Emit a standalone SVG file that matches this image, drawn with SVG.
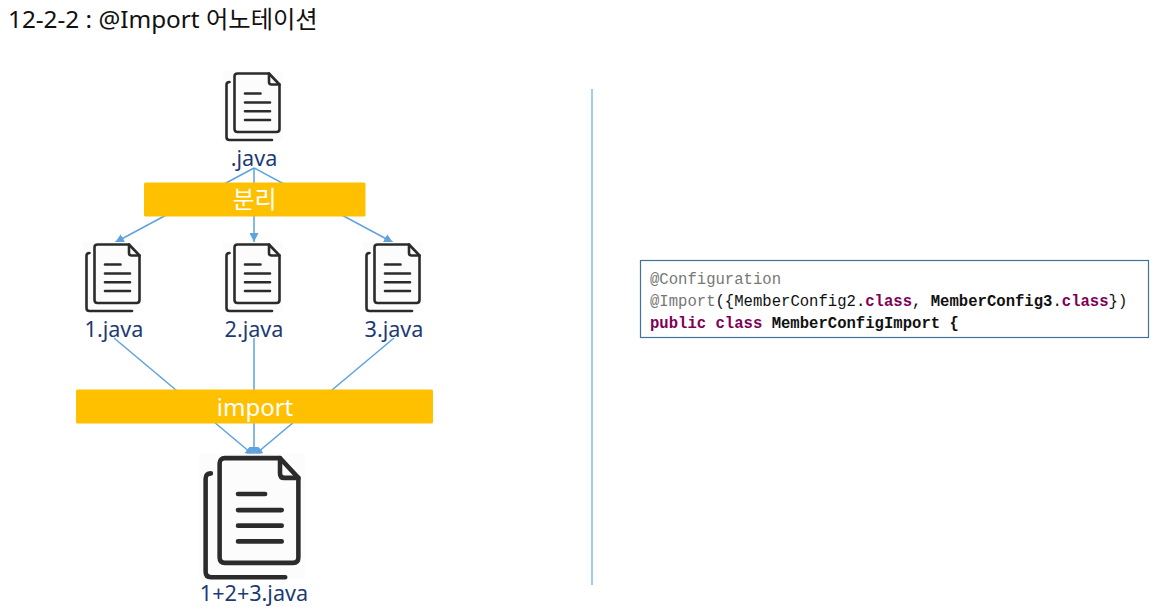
<svg xmlns="http://www.w3.org/2000/svg" width="1156" height="615" viewBox="0 0 1156 615">
<style>
.lbl{font-family:"Noto Sans","Noto Sans CJK KR",sans-serif;font-size:21.6px;fill:#1D3A74;text-anchor:middle}
.bar{fill:#FFC000}
.bt{font-family:"Noto Sans","Noto Sans CJK KR",sans-serif;font-size:24px;fill:#fff;text-anchor:middle}
.c{stroke:#5EA3DE;stroke-width:1.5;fill:none}
.a{marker-end:url(#arr)}
.ic{fill:none;stroke:#2b2b2b;stroke-width:2.6;stroke-linecap:round;stroke-linejoin:round}
.code{font-family:"Liberation Mono",monospace;font-size:15.6px;fill:#111}
.b{font-weight:bold}
.k{fill:#7F0055;font-weight:bold}
.g{fill:#777}
</style>
<defs>
<marker id="arr" markerUnits="userSpaceOnUse" markerWidth="10" markerHeight="9" refX="9" refY="4.5" orient="auto">
<path d="M0,0 L9,4.5 L0,9 Z" fill="#5EA3DE"/>
</marker>
<g id="doc">
<rect x="-2" y="-1" width="60" height="70" fill="#fcfcfc"/>
<path class="ic" d="M4.5,10 Q1.5,10 1.5,13 V65 Q1.5,68 4.5,68 H47"/>
<path class="ic" d="M12.5,1.5 H44 L54.5,12.5 V57 Q54.5,60 51.5,60 H12.5 Q9.5,60 9.5,57 V4.5 Q9.5,1.5 12.5,1.5 Z"/>
<path class="ic" d="M44,1.5 V10 Q44,12.5 46.5,12.5 H54.5"/>
<path class="ic" d="M20,21.5 H35.5 M20,30.5 H45 M20,39.2 H45 M20,48 H45"/>
</g>
</defs>
<rect width="1156" height="615" fill="#fff"/>
<text x="8" y="28" font-family="'Noto Sans','Noto Sans CJK KR',sans-serif" font-size="24.3" fill="#111">12-2-2 : @Import 어노테이션</text>

<g id="connectors">
<line class="c a" x1="254" y1="168" x2="115" y2="242.5"/>
<line class="c a" x1="254" y1="168" x2="254" y2="242"/>
<line class="c a" x1="254" y1="168" x2="393" y2="242.5"/>
<line class="c a" x1="114" y1="338" x2="254" y2="455.5"/>
<line class="c a" x1="254" y1="338" x2="254" y2="455.5"/>
<line class="c a" x1="394" y1="338" x2="254" y2="455.5"/>
<line x1="592" y1="89" x2="592" y2="585" stroke="#8FBFEA" stroke-width="1.6"/>
</g>

<g id="node-source"><use href="#doc" x="225" y="72"/><text class="lbl" x="254" y="165.5">.java</text></g>
<g id="node-split"><rect class="bar" x="144" y="182.5" width="221.5" height="34" rx="1.5"/><text class="bt" x="254.5" y="208">분리</text></g>
<g id="node-1"><use href="#doc" x="85" y="243"/><text class="lbl" x="114" y="336.5">1.java</text></g>
<g id="node-2"><use href="#doc" x="225" y="243"/><text class="lbl" x="254" y="336.5">2.java</text></g>
<g id="node-3"><use href="#doc" x="365" y="243"/><text class="lbl" x="394" y="336.5">3.java</text></g>
<g id="node-import"><rect class="bar" x="76" y="389.5" width="357" height="34" rx="1.5"/><text class="bt" x="255" y="416">import</text></g>
<g id="node-merged"><use href="#doc" transform="translate(203,455.5) scale(1.75,1.79)"/><text class="lbl" x="254" y="600.5">1+2+3.java</text></g>

<g id="node-code">
<rect x="640.5" y="260.5" width="508" height="77" fill="#fff" stroke="#41719C" stroke-width="1.2"/>
<text class="code g" x="650" y="283.5">@Configuration</text>
<text class="code" x="650" y="305.5"><tspan class="g">@Import</tspan>({MemberConfig2.<tspan class="k">class</tspan>, <tspan class="b">MemberConfig3</tspan>.<tspan class="k">class</tspan>})</text>
<text class="code b" x="650" y="327.5"><tspan class="k">public class</tspan> MemberConfigImport {</text>
</g>
</svg>
